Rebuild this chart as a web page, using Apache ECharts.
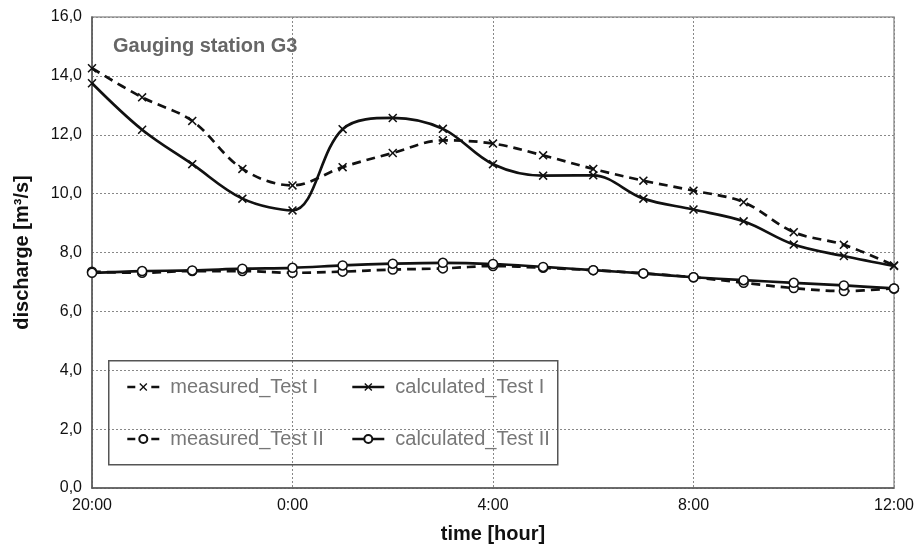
<!DOCTYPE html>
<html>
<head>
<meta charset="utf-8">
<script src="https://cdn.jsdelivr.net/npm/echarts@6/dist/echarts.min.js"></script>
<style>
html,body{margin:0;padding:0;background:#fff;}
#chart{width:915px;height:544px;}
</style>
</head>
<body>
<div id="chart"></div>
<script>
// Hourly time stamps (20:00 .. 12:00 next day)
var categories = ['20:00','21:00','22:00','23:00','0:00','1:00','2:00','3:00','4:00','5:00','6:00','7:00','8:00','9:00','10:00','11:00','12:00'];
var yTicks = [0,2,4,6,8,10,12,14,16];

var measuredTestI    = [14.26,13.27,12.47,10.84,10.28,10.90,11.38,11.81,11.70,11.30,10.84,10.44,10.10,9.71,8.69,8.26,7.56];
var calculatedTestI  = [13.75,12.17,11.00,9.83,9.43,12.19,12.57,12.20,11.00,10.61,10.62,9.83,9.46,9.06,8.27,7.88,7.54];
var measuredTestII   = [7.35,7.31,7.37,7.37,7.31,7.35,7.42,7.46,7.54,7.48,7.40,7.29,7.16,6.97,6.79,6.69,6.78];
var calculatedTestII = [7.31,7.37,7.39,7.45,7.48,7.56,7.62,7.65,7.61,7.51,7.40,7.29,7.16,7.06,6.97,6.88,6.78];

var names = ['measured_Test I','calculated_Test I','measured_Test II','calculated_Test II'];

var xSym = 'path://M0,1.2L1.2,0L5,3.8L8.8,0L10,1.2L6.2,5L10,8.8L8.8,10L5,6.2L1.2,10L0,8.8L3.8,5Z';
var ink = '#111';
var font = 'Liberation Sans, Arial, sans-serif';

function mkSeries(name, data, dashed, sym) {
  var isCircle = sym === 'circle';
  return {
    name: name,
    type: 'line',
    data: data,
    smooth: 0.35,
    symbol: sym,
    symbolSize: 9,
    showSymbol: true,
    lineStyle: { color: ink, width: 2.7, type: dashed ? [9, 6] : 'solid' },
    itemStyle: isCircle ? { color: '#fff', borderColor: ink, borderWidth: 1.5 } : { color: ink, borderWidth: 0 },
    emphasis: { disabled: true },
    z: isCircle ? 3 : 4
  };
}

function legendItems(prefix) {
  return names.filter(function (n) { return n.indexOf(prefix) === 0; }).map(function (n) {
    return prefix === 'measured'
      ? { name: n, lineStyle: { type: [8, 16], width: 2.6 } }
      : { name: n, lineStyle: { width: 2.6 } };
  });
}

var chart = echarts.init(document.getElementById('chart'), null, { renderer: 'canvas' });
var legendText = { color: '#777', fontSize: 20, fontFamily: font, lineHeight: 20, padding: [0, 0, 0, 6] };
chart.setOption({
  animation: false,
  backgroundColor: '#fff',
  title: {
    text: 'Gauging station G3',
    left: 108, top: 31,
    textStyle: { color: '#666', fontSize: 20, fontWeight: 'bold', fontFamily: font }
  },
  grid: { left: 92, right: 21, top: 17, bottom: 56, show: true, borderColor: '#999', borderWidth: 1.5, backgroundColor: 'transparent', outerBoundsMode: 'none', containLabel: false },
  graphic: [{
    type: 'rect', left: 108, top: 360, z: 1,
    shape: { width: 449, height: 104 },
    style: { fill: 'transparent', stroke: '#555', lineWidth: 1.5 }
  }],
  legend: [{
    data: legendItems('measured'),
    orient: 'vertical', left: 126, top: 377, padding: 0,
    itemWidth: 32, itemHeight: 10, itemGap: 32,
    textStyle: legendText
  }, {
    data: legendItems('calculated'),
    orient: 'vertical', left: 351, top: 377, padding: 0,
    itemWidth: 32, itemHeight: 10, itemGap: 32,
    textStyle: legendText
  }],
  xAxis: {
    type: 'category',
    data: categories,
    boundaryGap: false,
    name: 'time [hour]',
    nameLocation: 'middle',
    nameGap: 36,
    nameTextStyle: { color: '#111', fontSize: 20, fontWeight: 'bold', fontFamily: font },
    axisLine: { lineStyle: { color: '#555', width: 1.5 } },
    axisTick: { show: false },
    axisLabel: { interval: 3, color: '#111', fontSize: 16, margin: 10, fontFamily: font },
    splitLine: { show: true, interval: 3, lineStyle: { color: '#888', width: 1, type: [2, 2] } }
  },
  yAxis: {
    type: 'value',
    min: yTicks[0], max: yTicks[yTicks.length - 1], interval: yTicks[1] - yTicks[0],
    name: 'discharge [m³/s]',
    nameLocation: 'middle',
    nameGap: 60,
    nameRotate: 90,
    nameTextStyle: { color: '#111', fontSize: 20, fontWeight: 'bold', fontFamily: font },
    axisLine: { show: true, lineStyle: { color: '#555', width: 1.5 } },
    axisTick: { show: false },
    axisLabel: {
      color: '#111', fontSize: 16, margin: 10, fontFamily: font,
      formatter: function (v) { return v.toFixed(1).replace('.', ','); }
    },
    splitLine: { show: true, lineStyle: { color: '#888', width: 1, type: [2, 2] } }
  },
  series: [
    mkSeries(names[0], measuredTestI, true, xSym),
    mkSeries(names[1], calculatedTestI, false, xSym),
    mkSeries(names[2], measuredTestII, true, 'circle'),
    mkSeries(names[3], calculatedTestII, false, 'circle')
  ]
});
</script>
</body>
</html>
